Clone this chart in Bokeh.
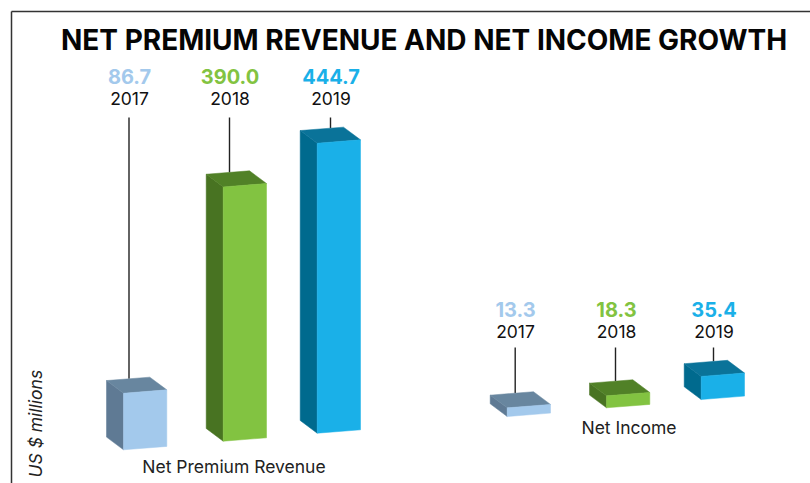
from bokeh.plotting import figure
from bokeh.models import Range1d
from bokeh.core.properties import value
from bokeh.embed import file_html
from bokeh.resources import INLINE
import math

title_text = "NET PREMIUM REVENUE AND NET INCOME GROWTH"
years = ["2017", "2018", "2019"]
net_premium = [86.7, 390.0, 444.7]
net_income = [13.3, 18.3, 35.4]
group_labels = ["Net Premium Revenue", "Net Income"]
unit_label = "US $ millions"
front_colors = ["#A3C9EC", "#82C341", "#1AB0E8"]
side_colors = ["#5F7A94", "#487322", "#006A8E"]
top_colors = ["#68869F", "#518127", "#0A7399"]

FONT = "Inter"
W, H = 810, 483
K = 0.652          # pixels per US $ million
Y0 = H


def Y(px):
    return (Y0 - px) / K


p = figure(width=W, height=H, output_backend="svg", toolbar_location=None,
           x_range=Range1d(0, W), y_range=Range1d(0, Y(0)),
           min_border=0)
p.axis.visible = False
p.grid.visible = False
p.outline_line_color = None
p.background_fill_color = "white"

# frame
p.line([11, 11], [Y(Y0), Y(11)], line_color="#333333", line_width=1.5)
p.line([11, W], [Y(11), Y(11)], line_color="#333333", line_width=1.5)

BAR_W, BAR_RISE = 43.3, 3.4
DEPTH_X, DEPTH_Y = 17.0, 12.7

# (front-left x, front bottom-left y, leader x, label x)
prem_layout = [(123.0, 449.3, 128.5, 129), (222.7, 440.7, 229, 229.5), (316.7, 432.7, 330, 330.5)]
inc_layout = [(506.7, 416.0, 514.7, 515), (606.0, 407.3, 615, 616), (700.7, 399.0, 713, 713.5)]


def draw_group(values, layout, value_mid, year_mid, leader_top):
    for i, (v, (x0, yb, lx, tx)) in enumerate(zip(values, layout)):
        b0 = Y(yb)
        rise = BAR_RISE / K
        dy = DEPTH_Y / K
        x1 = x0 + BAR_W
        # leader line runs from the year label down to the back of the bar top
        top_at_leader = b0 + v + dy + rise * (lx - (x0 - DEPTH_X)) / BAR_W
        p.line([lx, lx], [Y(leader_top), top_at_leader], line_color="#222222", line_width=1.4)
        # side
        p.patch([x0 - DEPTH_X, x0, x0, x0 - DEPTH_X],
                [b0 + dy, b0, b0 + v, b0 + v + dy],
                fill_color=side_colors[i], line_color=side_colors[i], line_width=0.5)
        # top
        p.patch([x0 - DEPTH_X, x1 - DEPTH_X, x1, x0],
                [b0 + v + dy, b0 + v + dy + rise, b0 + v + rise, b0 + v],
                fill_color=top_colors[i], line_color=top_colors[i], line_width=0.5)
        # front
        p.patch([x0, x1, x1, x0],
                [b0, b0 + rise, b0 + v + rise, b0 + v],
                fill_color=front_colors[i], line_color=front_colors[i], line_width=0.5)
        p.text([tx], [Y(value_mid)], text=[f"{v:.1f}"], text_color=front_colors[i],
               text_font=value(FONT), text_font_style="bold", text_font_size="20px",
               text_align="center", text_baseline="middle")
        p.text([tx], [Y(year_mid)], text=[years[i]], text_color="#111111",
               text_font=value(FONT), text_font_size="17.5px",
               text_align="center", text_baseline="middle")


draw_group(net_premium, prem_layout, 76, 98, 117)
draw_group(net_income, inc_layout, 309, 331, 347)

p.text([423.5], [Y(39)], text=[title_text], text_color="#050505", text_font=value(FONT),
       text_font_style="bold", text_font_size="28px", text_align="center",
       text_baseline="middle")
p.text([233.5], [Y(466)], text=[group_labels[0]], text_color="#222222", text_font=value(FONT),
       text_font_size="17.5px", text_align="center", text_baseline="middle")
p.text([628.5], [Y(427)], text=[group_labels[1]], text_color="#222222", text_font=value(FONT),
       text_font_size="17.5px", text_align="center", text_baseline="middle")
p.text([35], [Y(477)], text=[unit_label], text_color="#222222", text_font=value(FONT),
       text_font_style="italic", text_font_size="17.5px", text_align="left",
       text_baseline="middle", angle=math.pi / 2)

open("out.html", "w").write(file_html(p, INLINE))
